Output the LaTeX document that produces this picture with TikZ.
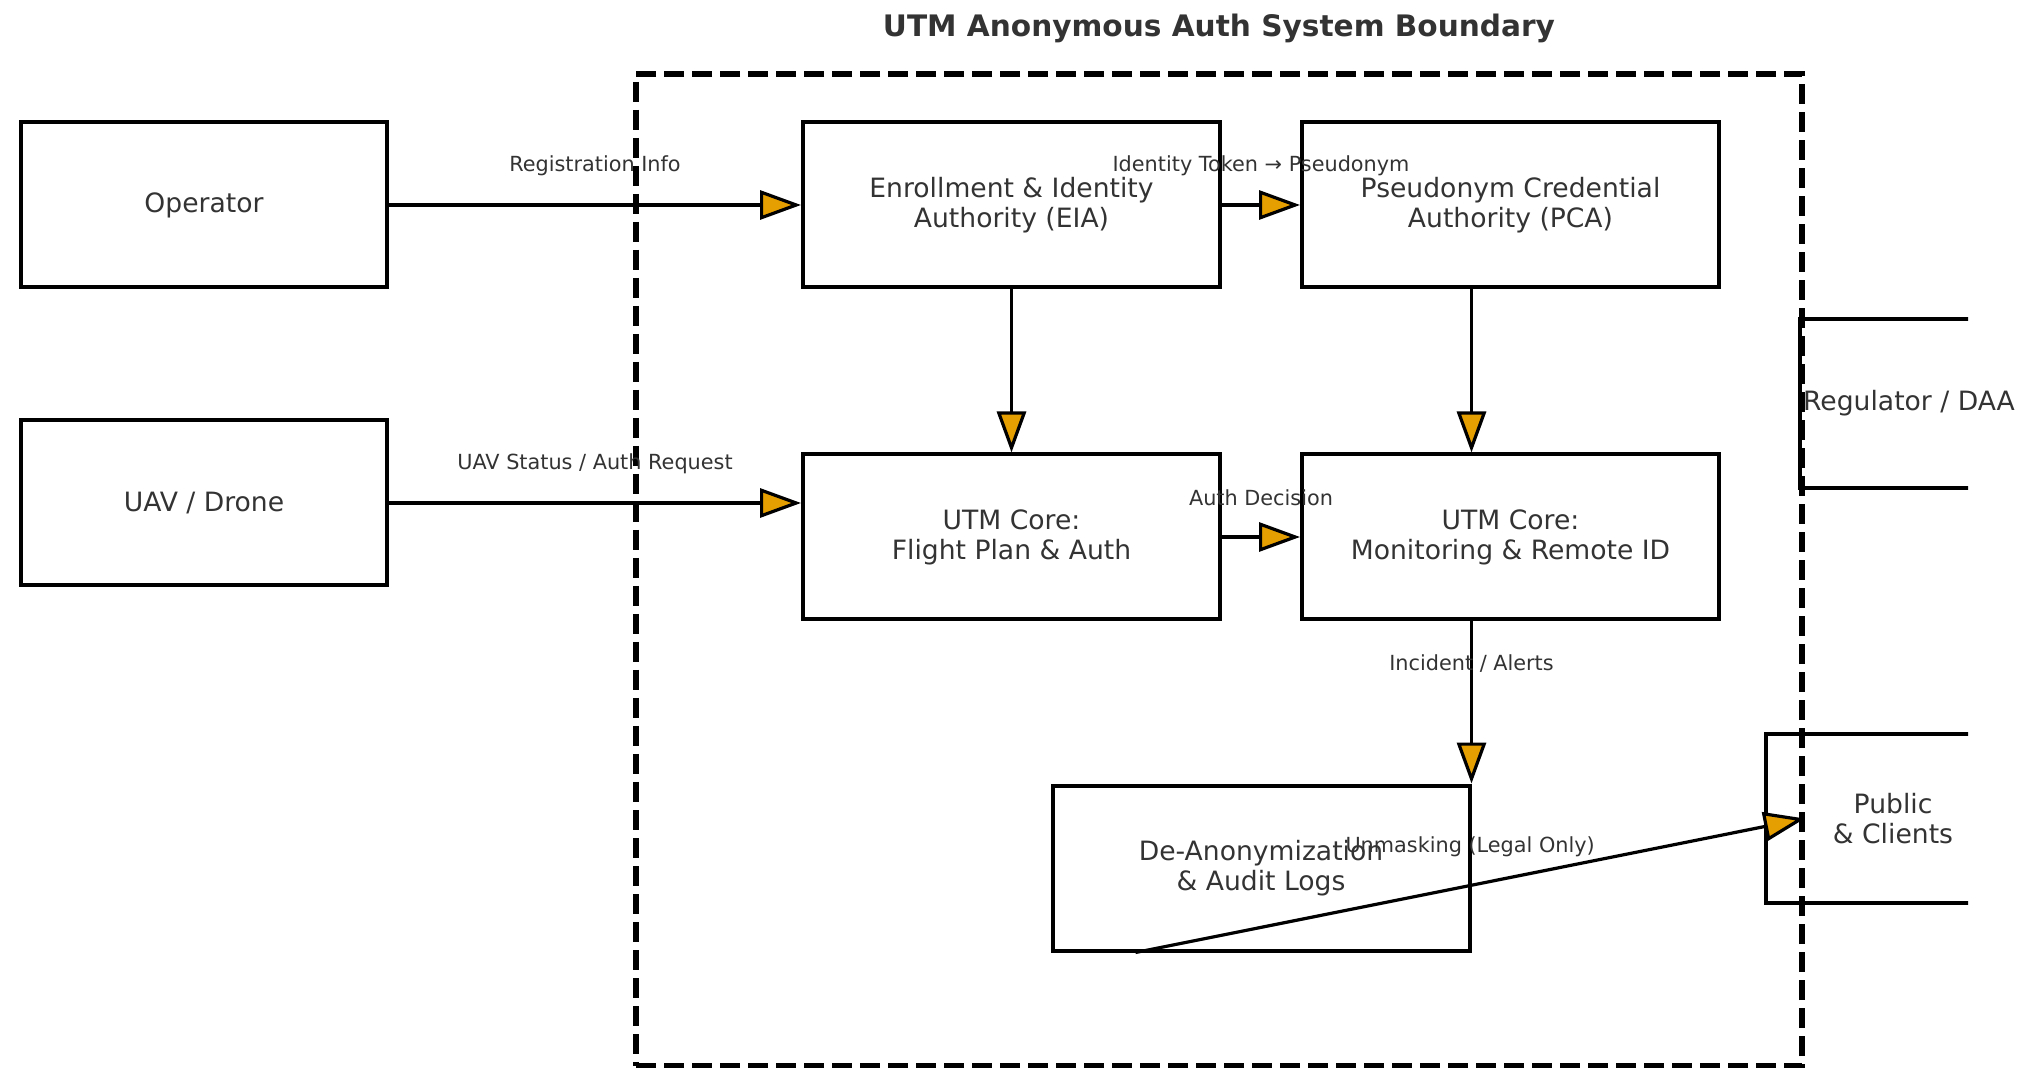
\documentclass[tikz,border=0pt]{standalone}
\usepackage{fontspec}
\setmainfont{DejaVu Sans}
\usepackage{tikz}
\usetikzlibrary{arrows.meta}
\definecolor{txtgray}{HTML}{333333}
\definecolor{tipfill}{HTML}{E69F00}
\newcommand{\boxfont}{\fontsize{13.3pt}{15pt}\selectfont}
\newcommand{\lblfont}{\fontsize{10.4pt}{12pt}\selectfont}
\tikzset{blk/.style={rectangle, draw=black, line width=2pt, text=txtgray, font=\boxfont, align=center, inner sep=0pt, minimum width=208.5pt, minimum height=82.5pt}}
\tikzset{side/.style={blk, minimum width=183pt}}
\tikzset{flow/.style={line width=1.6pt, -{Triangle[length=20.5pt, width=14.5pt, fill=tipfill]}}}
\tikzset{elbl/.style={midway, yshift=19.5pt, font=\lblfont, text=txtgray}}
\tikzset{bound/.style={rectangle, draw=black, line width=2.8pt, dash pattern=on 10pt off 4pt, inner sep=0pt, minimum width=583pt, minimum height=496pt}}

\begin{document}
\begin{tikzpicture}[x=0.5pt, y=-0.5pt]
  \useasboundingbox (0,0) rectangle (2028,1068);

  \node[bound] (bnd) at (1219,570) {};
  \node[font=\fontsize{14.8pt}{17pt}\selectfont\bfseries, text=txtgray] (title) at (1219,28) {UTM Anonymous Auth System Boundary};

  \node[side] (op) at (204,205) {Operator};
  \node[side] (uav) at (204,503) {UAV / Drone};

  \node[blk] (eia) at (1011.5,205) {Enrollment \& Identity\\Authority (EIA)};
  \node[blk] (pca) at (1510.5,205) {Pseudonym Credential\\Authority (PCA)};
  \node[blk] (fpa) at (1011.5,537) {UTM Core:\\Flight Plan \& Auth};
  \node[blk] (mon) at (1510.5,537) {UTM Core:\\Monitoring \& Remote ID};
  \node[blk] (deanon) at (1261,868) {De-Anonymization\\\& Audit Logs};

  % boxes cut off at the right edge
  \node[blk, draw=none, minimum width=107pt] (reg) at (1909,403.5) {Regulator / DAA};
  \node[blk, draw=none, minimum width=125pt] (pub) at (1893,818.5) {Public\\\& Clients};
  \begin{scope}
    \clip (0,0) rectangle (1968,1068);
    \draw[line width=2pt] (reg.north west) rectangle (reg.south east);
    \draw[line width=2pt] (pub.north west) rectangle (pub.south east);
  \end{scope}

  \coordinate (unmask) at ([xshift=42.5pt]deanon.south west);

  \draw[flow] (op.east) -- (eia.west) node[elbl] {Registration Info};
  \draw[flow] (uav.east) -- (uav.east -| fpa.west) node[elbl] {UAV Status / Auth Request};
  \draw[flow] (eia.east) -- (pca.west) node[elbl] {Identity Token → Pseudonym};
  \draw[flow] (eia.south) -- (fpa.north);
  \draw[flow] (deanon.east |- pca.south) -- (deanon.east |- mon.north);
  \draw[flow] (fpa.east) -- (mon.west) node[elbl] {Auth Decision};
  \draw[flow] (deanon.east |- mon.south) -- (deanon.north east) node[elbl] {Incident / Alerts};
  \draw[flow] (unmask) -- (bnd.east |- pub.west) node[elbl] {Unmasking (Legal Only)};

\end{tikzpicture}
\end{document}
